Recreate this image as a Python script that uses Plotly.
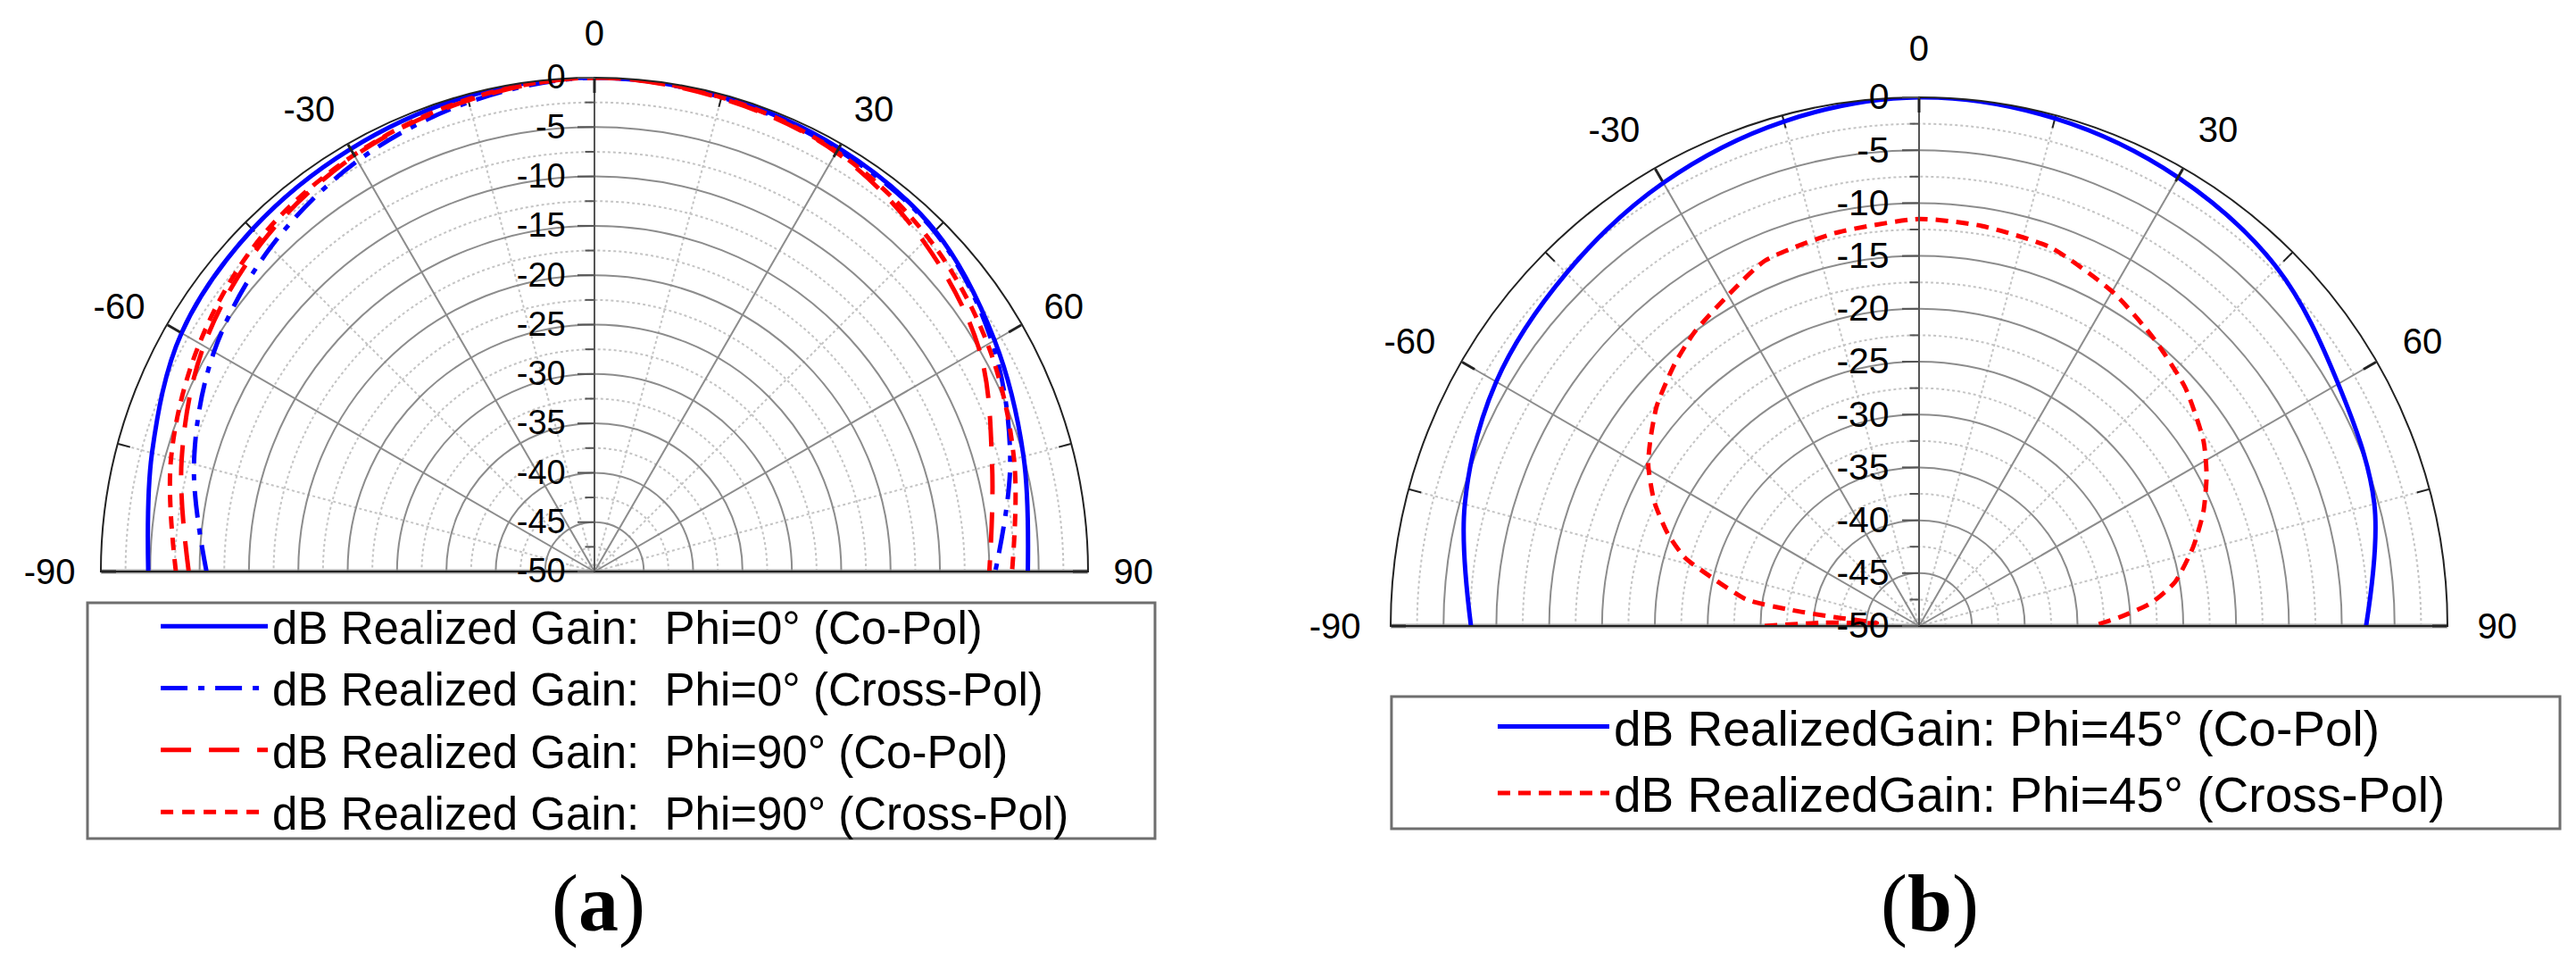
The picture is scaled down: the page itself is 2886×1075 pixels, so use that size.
import plotly.graph_objects as go

# ---------------- data ----------------
theta_a = [-90, -75, -60, -45, -30, -15, 0, 15, 30, 45, 60, 75, 90]
phi0_co = [-4.8, -3.6, -1.7, -1.0, -0.6, -0.2, 0.0, -0.2, -0.5, -1.2, -3.2, -5.0, -6.1]
phi0_cross = [-10.7, -8.0, -5.5, -3.6, -2.0, -0.8, 0.0, -0.3, -0.7, -1.3, -3.5, -6.4, -9.4]
phi90_co = [-8.9, -6.7, -4.3, -2.6, -1.4, -0.6, 0.0, -0.4, -1.0, -2.8, -5.0, -8.3, -10.0]
phi90_cross = [-7.6, -5.6, -3.8, -2.2, -1.3, -0.5, 0.0, -0.3, -0.9, -2.2, -4.0, -6.0, -7.7]

theta_b_co = [-90, -75, -60, -45, -30, -15, 0, 15, 30, 45, 60, 75, 90]
phi45_co = [-7.6, -5.5, -3.8, -2.8, -1.6, -0.6, 0.0, -0.3, -1.0, -2.1, -4.2, -5.4, -7.7]

theta_b_cross = [-90, -88, -86, -84, -82.9, -81.3, -77, -73.7, -69.7, -64.8, -59.3, -55.4,
                 -50, -43, -37.3, -29.6, -22.9, -12.3, 0, 8.9, 19.2, 30.3, 39.3, 48.2, 57,
                 62.4, 68.1, 73.9, 80.2, 84.3, 87.5, 90]
phi45_cross = [-35.4, -41.0, -46.0, -41.9, -37.9, -33.5, -30.0, -26.9, -24.6, -22.3, -20.2, -19.1,
               -17.6, -16.1, -15.0, -13.8, -12.5, -12.0, -11.5, -11.7, -12.1, -13.5, -14.9, -16.2, -17.9,
               -19.3, -21.0, -23.0, -25.4, -27.9, -31.0, -33.6]

r_major = [-50, -45, -40, -35, -30, -25, -20, -15, -10, -5, 0]
r_minor = [-47.5, -42.5, -37.5, -32.5, -27.5, -22.5, -17.5, -12.5, -7.5, -2.5]
ang_major = [-90, -60, -30, 0, 30, 60, 90]
ang_minor = [-75, -45, -15, 15, 45, 75]

legend_a = ["dB Realized Gain:  Phi=0° (Co-Pol)", "dB Realized Gain:  Phi=0° (Cross-Pol)",
            "dB Realized Gain:  Phi=90° (Co-Pol)", "dB Realized Gain:  Phi=90° (Cross-Pol)"]
legend_b = ["dB RealizedGain: Phi=45° (Co-Pol)", "dB RealizedGain: Phi=45° (Cross-Pol)"]
panel_labels = ["(<b>a</b>)", "(<b>b</b>)"]

BLUE = "#0000FF"
RED = "#FF0000"
FONT = "Liberation Sans, Arial, sans-serif"

fig = go.Figure()

# empty traces so that every grid / label layer is drawn
for k in ["polar", "polar2", "polar4", "polar5", "polar7", "polar8"]:
    fig.add_trace(go.Scatterpolar(r=[], theta=[], subplot=k, showlegend=False, hoverinfo="skip"))

# ---- chart (a) ----
fig.add_trace(go.Scatterpolar(r=phi0_co, theta=theta_a, subplot="polar3", mode="lines",
                              line=dict(color=BLUE, width=5, shape="spline"),
                              name=legend_a[0], legend="legend"))
fig.add_trace(go.Scatterpolar(r=phi0_cross, theta=theta_a, subplot="polar3", mode="lines",
                              line=dict(color=BLUE, width=5, shape="spline", dash="30px,12px,7px,12px"),
                              name=legend_a[1], legend="legend"))
fig.add_trace(go.Scatterpolar(r=phi90_co, theta=theta_a, subplot="polar3", mode="lines",
                              line=dict(color=RED, width=5, shape="spline", dash="34px,20px"),
                              name=legend_a[2], legend="legend"))
fig.add_trace(go.Scatterpolar(r=phi90_cross, theta=theta_a, subplot="polar3", mode="lines",
                              line=dict(color=RED, width=5, shape="spline", dash="14px,10px"),
                              name=legend_a[3], legend="legend"))

# ---- chart (b) ----
fig.add_trace(go.Scatterpolar(r=phi45_co, theta=theta_b_co, subplot="polar6", mode="lines",
                              line=dict(color=BLUE, width=5, shape="spline"),
                              name=legend_b[0], legend="legend2"))
fig.add_trace(go.Scatterpolar(r=phi45_cross, theta=theta_b_cross, subplot="polar6", mode="lines",
                              line=dict(color=RED, width=5, shape="spline", smoothing=0.6, dash="14px,9px"),
                              name=legend_b[1], legend="legend2"))


def layers(dom_x, dom_y, lab_x, lab_y, rfont):
    base_ang = dict(rotation=90, direction="clockwise", thetaunit="degrees", tickmode="array")
    base_rad = dict(range=[-50, 0], angle=90, side="counterclockwise", tickmode="array")
    l1 = dict(domain=dict(x=dom_x, y=dom_y), sector=[0, 180], bgcolor="white",
              radialaxis=dict(**base_rad, tickvals=r_minor, showticklabels=False, ticks="outside",
                              ticklen=10, tickwidth=2, tickcolor="#555", showline=False,
                              showgrid=True, gridcolor="#c4c4c4", gridwidth=1.5, griddash="dot"),
              angularaxis=dict(**base_ang, tickvals=ang_minor, showticklabels=False, ticks="inside",
                               ticklen=14, tickwidth=2, tickcolor="#222", showline=False,
                               showgrid=True, gridcolor="#c4c4c4", gridwidth=1.5, griddash="dot"))
    l2 = dict(domain=dict(x=dom_x, y=dom_y), sector=[0, 180], bgcolor="rgba(0,0,0,0)",
              radialaxis=dict(**base_rad, visible=False),
              angularaxis=dict(**base_ang, tickvals=[-90, 90], showticklabels=False, ticks="",
                               showline=False, showgrid=True, gridcolor="#a6a6a6", gridwidth=5))
    l3 = dict(domain=dict(x=dom_x, y=dom_y), sector=[0, 180], bgcolor="rgba(0,0,0,0)",
              radialaxis=dict(**base_rad, tickvals=r_major, ticktext=[str(v) for v in r_major],
                              tickangle=90, tickfont=dict(family=FONT, size=rfont, color="black"),
                              ticks="outside", ticklen=18, tickwidth=2, tickcolor="#555",
                              showline=True, linecolor="#555", linewidth=2,
                              showgrid=True, gridcolor="#8c8c8c", gridwidth=1.5),
              angularaxis=dict(**base_ang, tickvals=ang_major, showticklabels=False,
                               ticks="inside", ticklen=16, tickwidth=3, tickcolor="#222",
                               showline=True, linecolor="#222", linewidth=2,
                               showgrid=True, gridcolor="#8c8c8c", gridwidth=1.5))
    # label-only layer, slightly larger, so the angle labels sit further out
    l4 = dict(domain=dict(x=lab_x, y=lab_y), sector=[0, 180], bgcolor="rgba(0,0,0,0)",
              radialaxis=dict(**base_rad, visible=False),
              angularaxis=dict(**base_ang, tickvals=ang_major, ticktext=[str(v) for v in ang_major],
                               tickfont=dict(family=FONT, size=40, color="black"),
                               ticks="", showline=False, showgrid=False))
    return l1, l2, l3, l4


a1, a2, a3, a4 = layers([0.03638, 0.41961], [0.41209, 0.92651],
                        [0.02668, 0.42931], [0.41209, 0.95256], 38)
b1, b2, b3, b4 = layers([0.53708, 0.94733], [0.35535, 0.90605],
                        [0.52564, 0.95876], [0.35535, 0.93674], 41)

box = dict(type="rect", xref="paper", yref="paper", line=dict(color="#6e6e6e", width=3),
           fillcolor="rgba(0,0,0,0)", layer="above")

fig.update_layout(
    width=2886, height=1075, margin=dict(l=0, r=0, t=0, b=0),
    paper_bgcolor="white", plot_bgcolor="white",
    font=dict(family=FONT, color="black"),
    polar=a1, polar2=a2, polar3=a3, polar7=a4,
    polar4=b1, polar5=b2, polar6=b3, polar8=b4,
    legend=dict(x=0.0579, y=0.3920, xanchor="left", yanchor="top",
                borderwidth=0, bgcolor="rgba(0,0,0,0)",
                font=dict(family=FONT, size=51, color="black"), itemwidth=120),
    legend2=dict(x=0.5769, y=0.2900, xanchor="left", yanchor="top",
                 borderwidth=0, bgcolor="rgba(0,0,0,0)",
                 font=dict(family=FONT, size=55, color="black"), itemwidth=125),
    shapes=[
        dict(box, x0=0.03119, x1=0.4456, y0=0.1340, y1=0.3795),
        dict(box, x0=0.5374, x1=0.9910, y0=0.1442, y1=0.2819),
    ],
    annotations=[
        dict(text=panel_labels[0], x=0.2294, y=0.0660, xref="paper", yref="paper",
             xanchor="center", yanchor="middle", showarrow=False,
             font=dict(family="Liberation Serif, Times New Roman, serif", size=90)),
        dict(text=panel_labels[1], x=0.7464, y=0.0660, xref="paper", yref="paper",
             xanchor="center", yanchor="middle", showarrow=False,
             font=dict(family="Liberation Serif, Times New Roman, serif", size=90)),
    ],
)

fig.write_html("out.html")
